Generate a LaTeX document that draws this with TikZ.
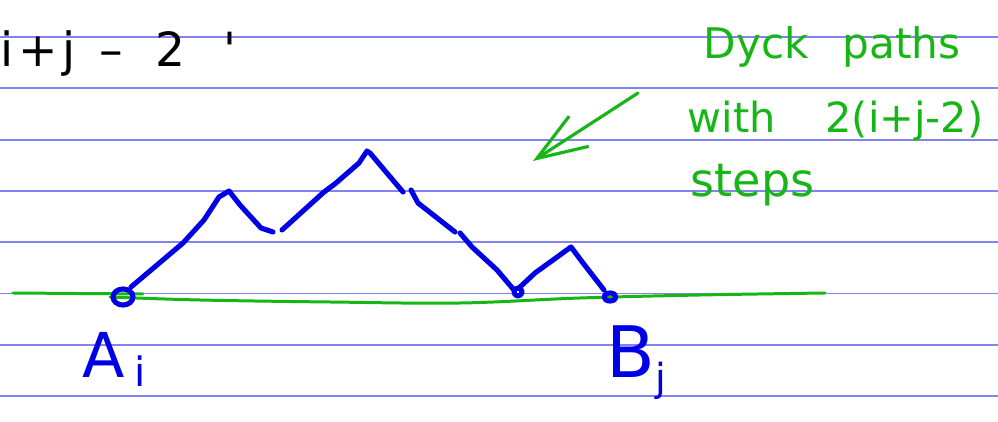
\documentclass[tikz,border=0pt]{standalone}
\usepackage{fontspec}
\setmainfont{DejaVu Sans}[Ligatures=TeXOff]
\usetikzlibrary{arrows.meta}

\definecolor{rulecol}{RGB}{130,130,240}
\definecolor{penblue}{RGB}{0,0,230}
\definecolor{pengreen}{RGB}{22,182,22}

\begin{document}
\begin{tikzpicture}[
    x=0.01cm, y=-0.01cm,
    line join=round, line cap=round,
    rule/.style={draw=rulecol, line width=0.55pt, line cap=butt},
    dyck/.style={draw=penblue, line width=1.45pt},
    axis/.style={draw=pengreen, line width=0.85pt},
    pointer/.style={draw=pengreen, line width=0.9pt,
        -{Straight Barb[length=5mm,width=3.6mm]}},
    note/.style={anchor=base west, inner sep=0pt, text=pengreen},
    endlabel/.style={anchor=base west, inner sep=0pt, text=penblue}
]
\useasboundingbox (0,0) rectangle (998,422);

% Ruled paper
\foreach \k in {0,...,7}
    \draw[rule] (0,{37+51.3*\k}) -- (998,{37+51.3*\k});

% Count
\node[anchor=base west, inner sep=0pt, font=\fontsize{13.4}{16}\selectfont] (count) at (0,67)
  {i\hspace{0.1em}+\hspace{0.1em}j\hspace{0.5em}–\hspace{0.7em}2\hspace{0.8em}'};

% Base line
\draw[axis] (13,293) -- (143,294);
\draw[axis] plot[smooth, tension=0.6] coordinates
  {(110,297) (200,300) (330,302) (460,303) (580,298) (700,295) (825,293)};

% End points
\coordinate (Ai) at (123,297);
\coordinate (Bj) at (610,297);
\draw[dyck] (Ai) ellipse [x radius=10, y radius=8];
\draw[dyck] (Bj) ellipse [x radius=6, y radius=4];

% Path
\draw[dyck] (131,287) -- (183,243) -- (204,220) -- (219,197) -- (229,191)
  -- (240,205) -- (261,228) -- (273,232);
\draw[dyck] (282,230) -- (324,192) -- (336,183) -- (359,163) -- (367,151)
  -- (370,153) -- (386,172) -- (403,192);
\draw[dyck] (411,190) -- (418,203) -- (455,232);
\draw[dyck] (460,233) -- (472,247) -- (497,270) -- (514,290);
\draw[dyck] (518,292) circle [radius=4];
\draw[dyck] (520,287) -- (535,273) -- (571,247) -- (583,263) -- (604,290);

% Labels
\node[endlabel, font=\fontsize{17.6}{20}\selectfont] (labA) at (82,377)
  {A\hspace{0.15em}\raisebox{-0.16em}{\fontsize{11.5}{13}\selectfont i}};
\node[endlabel, font=\fontsize{20.2}{23}\selectfont] (labB) at (606,377)
  {B\raisebox{-0.2em}{\fontsize{11}{13}\selectfont j}};

% Note
\node[note, font=\fontsize{12}{14}\selectfont] (dyckNote) at (703,59)
  {Dyck\hspace{0.8em}paths};
\node[note, font=\fontsize{11.8}{14}\selectfont] (withNote) at (687,133)
  {with\hspace{1.2em}2(i+j-2)};
\node[note, font=\fontsize{13.1}{16}\selectfont] (stepsNote) at (690,197)
  {steps};
\coordinate (tail) at (638,93);
\coordinate (tip) at (533,161);
\draw[pointer] (tail) -- (tip);

\end{tikzpicture}
\end{document}
